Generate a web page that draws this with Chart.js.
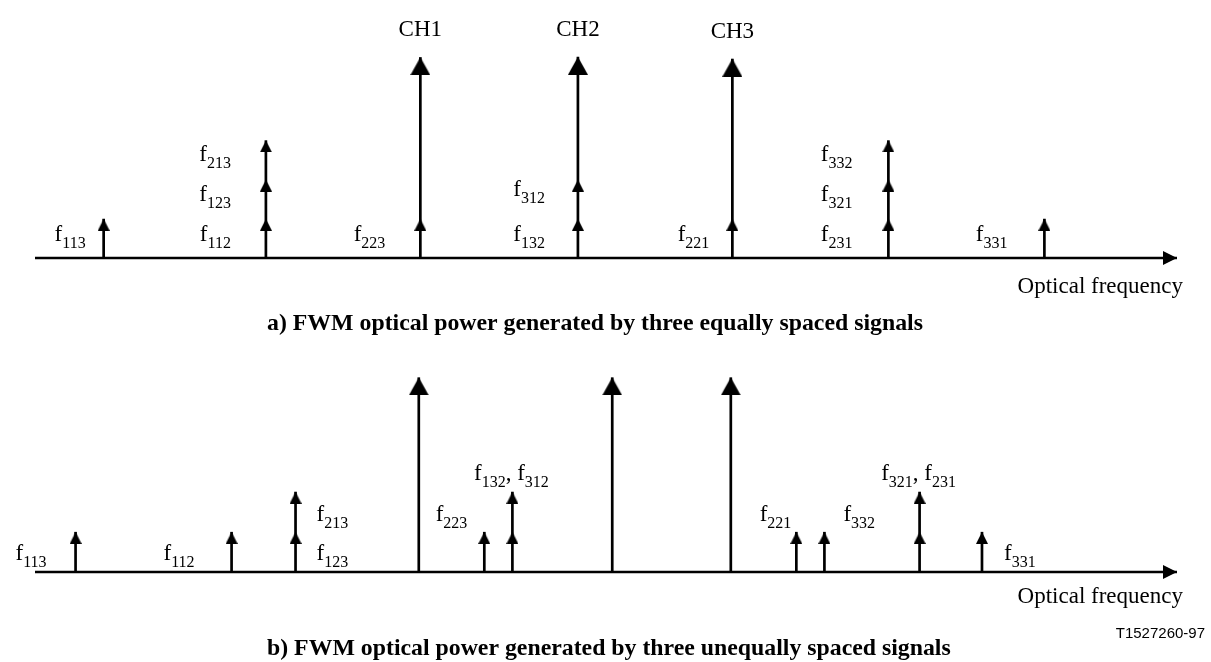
<!DOCTYPE html>
<html>
<head>
<meta charset="utf-8">
<script src="https://cdn.jsdelivr.net/npm/chart.js@4.4.1/dist/chart.umd.min.js"></script>
<style>
  html, body { margin: 0; padding: 0; background: #fff; overflow: hidden; }
  .panel { position: absolute; left: 0; width: 1211px; }
  .panel-a { top: 0; height: 338px; }
  .panel-b { top: 338px; height: 324px; }
</style>
</head>
<body>
<div class="panel panel-a"><canvas id="fwmA"></canvas></div>
<div class="panel panel-b"><canvas id="fwmB"></canvas></div>
<script>
// frequency in channel-spacing units, counted from CH2 of panel a
const freqMin = -3.48;
const freqMax = 3.84;

const channelNames = ["CH1", "CH2", "CH3"];

// a) three equally spaced signals
const channelFreqA = [-1.01, 0, 0.99];
const channelPowerA = [5.12, 5.13, 5.08];
const productNamesA = ["f113", "f112", "f123", "f213", "f223", "f132", "f312", "f221", "f231", "f321", "f332", "f331"];
const productFreqA = [-3.04, -2, -2, -2, -1.01, 0, 0, 0.99, 1.99, 1.99, 1.99, 2.99];
const productPowerA = [1, 1, 2, 3, 1, 1, 2, 1, 1, 2, 3, 1];

// b) three unequally spaced signals
const channelFreqB = [-1.02, 0.22, 0.98];
const channelPowerB = [4.85, 4.85, 4.85];
const productNamesB = ["f113", "f112", "f123", "f213", "f223", "f132", "f312", "f221", "f332", "f321", "f231", "f331"];
const productFreqB = [-3.22, -2.22, -1.81, -1.81, -0.6, -0.42, -0.42, 1.4, 1.58, 2.19, 2.19, 2.59];
const productPowerB = [1, 1, 1, 2, 1, 1, 2, 1, 1, 1, 2, 1];

// label placement (pixels from the arrow / axis)
const placeA = [
  { text: "f113", at: "f113", dx: -18, dy: 17, align: "right" },
  { text: "f112", at: "f112", dx: -35, dy: 17, align: "right" },
  { text: "f123", at: "f123", dx: -35, dy: 57, align: "right" },
  { text: "f213", at: "f213", dx: -35, dy: 97, align: "right" },
  { text: "f223", at: "f223", dx: -35, dy: 17, align: "right" },
  { text: "f132", at: "f132", dx: -33, dy: 17, align: "right" },
  { text: "f312", at: "f312", dx: -33, dy: 62, align: "right" },
  { text: "f221", at: "f221", dx: -23, dy: 17, align: "right" },
  { text: "f231", at: "f231", dx: -36, dy: 17, align: "right" },
  { text: "f321", at: "f321", dx: -36, dy: 57, align: "right" },
  { text: "f332", at: "f332", dx: -36, dy: 97, align: "right" },
  { text: "f331", at: "f331", dx: -37, dy: 17, align: "right" },
];
const placeB = [
  { text: "f113", at: "f113", dx: -29, dy: 12, align: "right" },
  { text: "f112", at: "f112", dx: -37, dy: 12, align: "right" },
  { text: "f123", at: "f123", dx: 21, dy: 12, align: "left" },
  { text: "f213", at: "f213", dx: 21, dy: 51, align: "left" },
  { text: "f223", at: "f223", dx: -17, dy: 51, align: "right" },
  { text: "f132, f312", at: "f132", dx: -1, dy: 92, align: "center" },
  { text: "f221", at: "f221", dx: -5, dy: 51, align: "right" },
  { text: "f332", at: "f332", dx: 19, dy: 51, align: "left" },
  { text: "f321, f231", at: "f321", dx: -1, dy: 92, align: "center" },
  { text: "f331", at: "f331", dx: 22, dy: 12, align: "left" },
];

const SERIF = '"Liberation Serif", "Times New Roman", serif';
const INK = "#000";

// arrowheads as images, tip at the image centre
function upHead(w, h) {
  const c = document.createElement("canvas");
  c.width = w;
  c.height = 2 * h;
  const g = c.getContext("2d");
  g.fillStyle = INK;
  g.beginPath();
  g.moveTo(w / 2, h);
  g.lineTo(w, 2 * h);
  g.lineTo(0, 2 * h);
  g.closePath();
  g.fill();
  return c;
}
function rightHead(len, h) {
  const c = document.createElement("canvas");
  c.width = 2 * len;
  c.height = h;
  const g = c.getContext("2d");
  g.fillStyle = INK;
  g.beginPath();
  g.moveTo(len, h / 2);
  g.lineTo(0, 0);
  g.lineTo(0, h);
  g.closePath();
  g.fill();
  return c;
}
const smallHead = upHead(12, 12);
const bigHead = upHead(20, 18);
const axisHead = rightHead(14, 14);

// "f132" -> f with subscript 132
function drawFLabel(ctx, text, x, y, align) {
  const parts = [];
  text.replace(/f(\d+)|([^f]+)/g, (m, sub, plain) => {
    if (sub) { parts.push(["f", false]); parts.push([sub, true]); }
    else parts.push([plain, false]);
  });
  const fontOf = (s) => (s ? "16px " : "23px ") + SERIF;
  let w = 0;
  parts.forEach(([t, s]) => { ctx.font = fontOf(s); w += ctx.measureText(t).width; });
  let cx = align === "right" ? x - w : align === "center" ? x - w / 2 : x;
  ctx.textAlign = "left";
  parts.forEach(([t, s]) => {
    ctx.font = fontOf(s);
    ctx.fillText(t, cx, s ? y + 7 : y);
    cx += ctx.measureText(t).width;
  });
}

const annotate = {
  id: "annotate",
  afterDatasetsDraw(chart, args, o) {
    const { ctx } = chart;
    const x = chart.scales.x, y = chart.scales.y;
    const y0 = y.getPixelForValue(0);
    ctx.save();
    ctx.fillStyle = INK;
    ctx.textBaseline = "alphabetic";
    o.place.forEach((l) => {
      const i = o.names.indexOf(l.at);
      drawFLabel(ctx, l.text, x.getPixelForValue(o.freqs[i]) + l.dx, y0 - l.dy, l.align);
    });
    ctx.font = "23px " + SERIF;
    if (o.showChannels) {
      ctx.textAlign = "center";
      o.chFreqs.forEach((f, i) => {
        ctx.fillText(channelNames[i], x.getPixelForValue(f), y.getPixelForValue(o.chPowers[i]) - 21);
      });
    }
    ctx.textAlign = "right";
    ctx.fillText("Optical frequency", x.getPixelForValue(freqMax) + 6, y0 + o.axisLabelDy);
    ctx.textAlign = "left";
    ctx.font = "bold 23.8px " + SERIF;
    ctx.fillText(o.title, 267, o.titleY);
    if (o.code) {
      ctx.textAlign = "right";
      ctx.font = '15px "Liberation Sans", Arial, sans-serif';
      ctx.fillText(o.code, 1205, o.codeY);
    }
    ctx.restore();
  },
};

function buildDatasets(chFreq, chPower, prFreq, prPower) {
  const line = { showLine: true, borderColor: INK, borderWidth: 2.7, pointRadius: 0, clip: false };
  const ds = [];
  ds.push({ ...line, data: [{ x: freqMin, y: 0 }, { x: freqMax, y: 0 }] });
  const tops = new Map();
  chFreq.forEach((f, i) => tops.set(f, Math.max(tops.get(f) || 0, chPower[i])));
  prFreq.forEach((f, i) => tops.set(f, Math.max(tops.get(f) || 0, prPower[i])));
  tops.forEach((top, f) => ds.push({ ...line, data: [{ x: f, y: 0 }, { x: f, y: top }] }));
  const head = { pointRadius: 3, clip: false, showLine: false };
  ds.push({ ...head, pointStyle: axisHead, data: [{ x: freqMax, y: 0 }] });
  ds.push({ ...head, pointStyle: smallHead, data: prFreq.map((f, i) => ({ x: f, y: prPower[i] })) });
  ds.push({ ...head, pointStyle: bigHead, data: chFreq.map((f, i) => ({ x: f, y: chPower[i] })) });
  return ds;
}

function makePanel(id, height, axisY, unit, datasets, notes) {
  new Chart(document.getElementById(id), {
    type: "scatter",
    data: { datasets },
    options: {
      responsive: true,
      maintainAspectRatio: false,
      animation: false,
      events: [],
      layout: { padding: { left: 35, right: 34, top: 0, bottom: height - axisY } },
      scales: {
        x: { type: "linear", min: freqMin, max: freqMax, display: false },
        y: { type: "linear", min: 0, max: axisY / unit, display: false },
      },
      plugins: { legend: { display: false }, tooltip: { enabled: false }, annotate: notes },
    },
    plugins: [annotate],
  });
}

makePanel("fwmA", 338, 258, 40,
  buildDatasets(channelFreqA, channelPowerA, productFreqA, productPowerA),
  {
    place: placeA, names: productNamesA, freqs: productFreqA,
    chFreqs: channelFreqA, chPowers: channelPowerA, showChannels: true,
    axisLabelDy: 35, title: "a) FWM optical power generated by three equally spaced signals", titleY: 330,
  });

makePanel("fwmB", 324, 234, 41,
  buildDatasets(channelFreqB, channelPowerB, productFreqB, productPowerB),
  {
    place: placeB, names: productNamesB, freqs: productFreqB,
    chFreqs: channelFreqB, chPowers: channelPowerB, showChannels: false,
    axisLabelDy: 31, title: "b) FWM optical power generated by three unequally spaced signals", titleY: 317,
    code: "T1527260-97", codeY: 300,
  });
</script>
</body>
</html>
